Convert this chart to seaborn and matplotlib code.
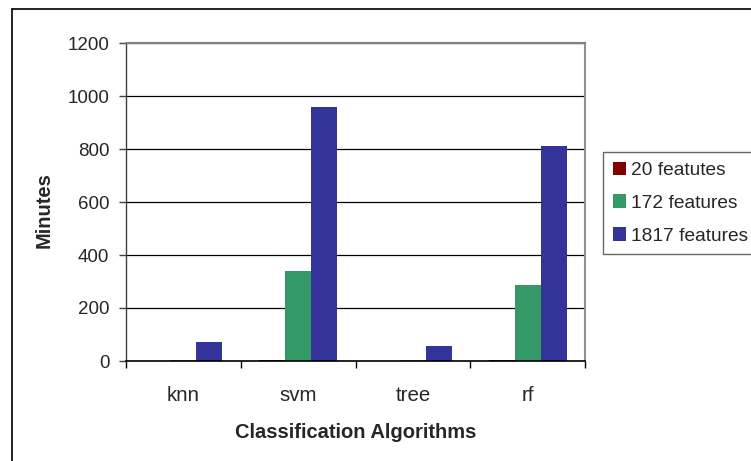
import matplotlib
matplotlib.use("Agg")
import matplotlib.pyplot as plt
from matplotlib.lines import Line2D
import seaborn as sns
import pandas as pd

categories = ["knn", "svm", "tree", "rf"]
series_names = ["20 featutes", "172 features", "1817 features"]
vals_20 = [0.5, 5, 0.3, 5]
vals_172 = [4, 340, 4, 287]
vals_1817 = [73, 958, 57, 811]
colors = ["#800000", "#339966", "#333399"]
yticks = [0, 200, 400, 600, 800, 1000, 1200]

rows = []
for name, vals in zip(series_names, [vals_20, vals_172, vals_1817]):
    for c, v in zip(categories, vals):
        rows.append({"Algorithm": c, "Series": name, "Minutes": v})
df = pd.DataFrame(rows)

sns.set_style("white")
plt.rcParams["font.family"] = ["Liberation Sans", "DejaVu Sans"]

fig = plt.figure(figsize=(7.51, 4.61), dpi=100)
ax = fig.add_axes([126 / 751, 1 - 361 / 461, (585 - 126) / 751, (361 - 43) / 461])

sns.barplot(data=df, x="Algorithm", y="Minutes", hue="Series", order=categories,
            hue_order=series_names, palette=colors, width=0.68, gap=0,
            edgecolor="none", linewidth=0, saturation=1, ax=ax, errorbar=None)

ax.set_ylim(0, 1200)
ax.set_xlim(-0.5, 3.5)
ax.set_yticks(yticks)
ax.set_yticklabels([str(t) for t in yticks], fontsize=13.5)
ax.yaxis.grid(True, color="black", linewidth=0.9)
ax.set_axisbelow(True)

ax.tick_params(axis="y", length=5, width=1, color="#404040", pad=7, direction="out", left=True)
ax.tick_params(axis="x", which="major", length=0, pad=18, labelsize=14.8)
ax.set_xticks([-0.5, 0.5, 1.5, 2.5, 3.5], minor=True)
ax.tick_params(axis="x", which="minor", length=5, width=1, color="black", direction="out", bottom=True)

ax.set_xlabel("Classification Algorithms", fontsize=14.5, fontweight="bold", labelpad=13)
ax.set_ylabel("Minutes", fontsize=14.5, fontweight="bold")
ax.yaxis.set_label_coords(-0.158, 0.475)

ax.spines["left"].set_color("#404040")
ax.spines["left"].set_linewidth(1)
ax.spines["bottom"].set_color("black")
ax.spines["bottom"].set_linewidth(1.2)
ax.spines["right"].set_color("#909090")
ax.spines["right"].set_linewidth(1.5)
ax.spines["top"].set_color("#808080")
ax.spines["top"].set_linewidth(1.5)

handles, labels = ax.get_legend_handles_labels()
if ax.get_legend() is not None:
    ax.get_legend().remove()
leg = fig.legend(handles, labels, loc="upper left", bbox_to_anchor=(603 / 751, 1 - 152 / 461),
                 bbox_transform=fig.transFigure, fontsize=13.8, frameon=True, fancybox=False,
                 handlelength=0.7, handleheight=0.7, handletextpad=0.28, labelspacing=0.8,
                 borderpad=0.5, borderaxespad=0)
leg.get_frame().set_edgecolor("#404040")
leg.get_frame().set_linewidth(1)

fig.add_artist(Line2D([12 / 751, 12 / 751], [0, 1 - 9.5 / 461], transform=fig.transFigure,
                      color="black", linewidth=1.2))
fig.add_artist(Line2D([12 / 751, 1], [1 - 9.5 / 461, 1 - 9.5 / 461], transform=fig.transFigure,
                      color="black", linewidth=1.2))

fig.savefig("out.png", dpi=100)
